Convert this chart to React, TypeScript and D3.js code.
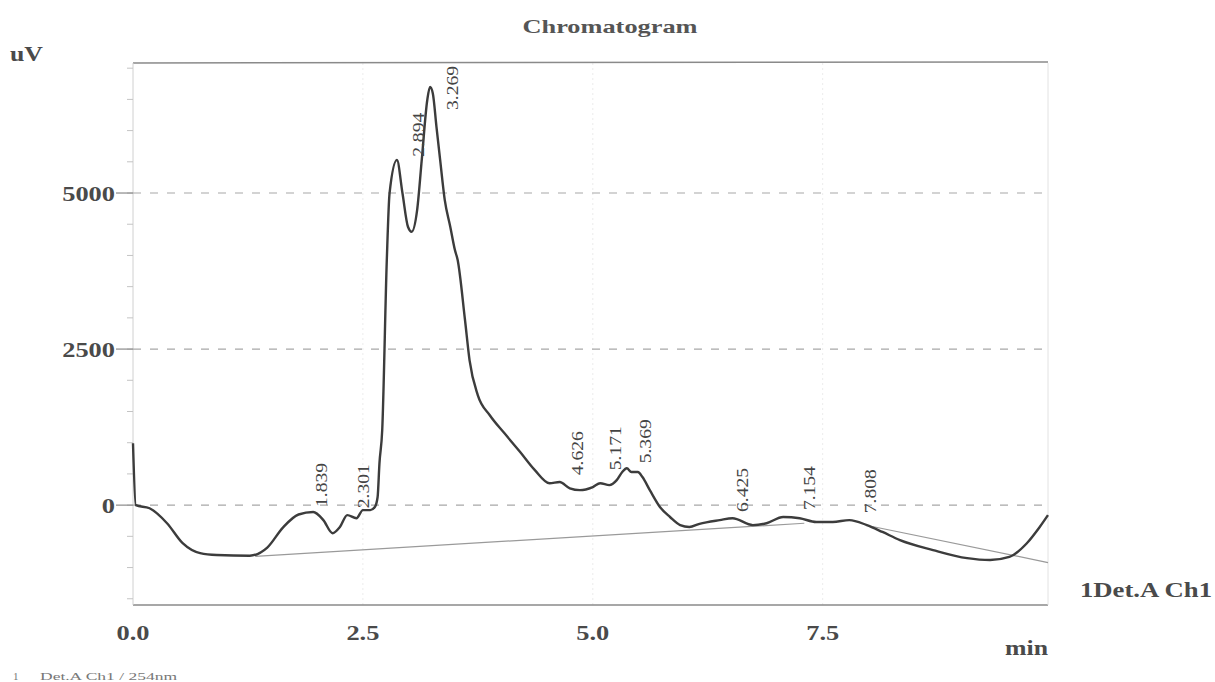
import React from "react";
import * as d3 from "d3";

const title = "Chromatogram";
const yUnit = "uV";
const xUnit = "min";
const channelLabel = "1Det.A Ch1";
const footNo = "1";
const footText = "Det.A Ch1 / 254nm";

const xTicks = [0, 2.5, 5, 7.5];
const yTicks = [0, 2500, 5000];
const yMinorTicks = [-1500, -1000, -500, 0, 500, 1000, 1500, 2000, 2500, 3000, 3500, 4000, 4500, 5000, 5500, 6000, 6500, 7000];

// chromatogram trace: retention time (min), signal (uV)
const traceTime = [
  0.0, 0.03, 0.18, 0.37, 0.54, 0.73, 0.91, 1.27, 1.46, 1.63, 1.8, 1.96, 2.07, 2.17, 2.25, 2.33, 2.43, 2.5, 2.58, 2.63,
  2.66, 2.68, 2.71, 2.76, 2.79, 2.87, 2.93, 2.99, 3.03, 3.09, 3.14, 3.2, 3.23, 3.26, 3.3, 3.34, 3.39, 3.45, 3.5, 3.53,
  3.61, 3.66, 3.75, 3.88, 4.04, 4.21, 4.37, 4.53, 4.64, 4.75, 4.86, 5.0, 5.08, 5.18, 5.26, 5.32, 5.37, 5.42, 5.49, 5.54,
  5.62, 5.73, 5.84, 5.95, 6.05, 6.16, 6.38, 6.52, 6.74, 6.89, 7.07, 7.25, 7.43, 7.61, 7.79, 7.98, 8.15, 8.34, 8.7, 9.07,
  9.32, 9.53, 9.72, 9.86, 9.95,
];
const traceSignal = [
  990, 0, -50, -290, -610, -770, -800, -810, -680, -360, -150, -110, -240, -450, -350, -160, -210, -80, -80, -30,
  130, 670, 1200, 3930, 5000, 5530, 5000, 4460, 4380, 4730, 5530, 6490, 6700, 6600, 6060, 5530, 4890, 4460, 4090, 3930,
  2970, 2320, 1760, 1440, 1150, 850, 560, 350, 370, 270, 240, 290, 350, 320, 400, 530, 590, 530, 530, 450,
  240, -30, -190, -320, -350, -300, -240, -210, -320, -290, -190, -210, -270, -270, -240, -320, -430, -560, -720, -850,
  -880, -830, -610, -350, -160,
];

// integration baseline segments
const baseline1Time = [1.33, 7.3];
const baseline1Signal = [-820, -290];
const baseline2Time = [8.0, 9.95];
const baseline2Signal = [-330, -920];

// peak labels
const peakTimes = [1.839, 2.301, 2.894, 3.269, 4.626, 5.171, 5.369, 6.425, 7.154, 7.808];
const peakLabelHeights = [-30, -50, 5580, 6330, 480, 560, 670, -110, -80, -130];

const W = 1215;
const H = 682;
const L = 133;
const R = 1048;
const T = 63;
const B = 605;

export default function App() {
  const x = d3.scaleLinear().domain([0, 9.95]).range([L, R]);
  const y = d3.scaleLinear().domain([-1600, 7083]).range([B, T]);

  const pts: [number, number][] = traceTime.map((t, i) => [t, traceSignal[i]]);
  const line = d3
    .line<[number, number]>()
    .x((d) => x(d[0]))
    .y((d) => y(d[1]))
    .curve(d3.curveMonotoneX);

  const bl = d3
    .line<[number, number]>()
    .x((d) => x(d[0]))
    .y((d) => y(d[1]));
  const b1: [number, number][] = baseline1Time.map((t, i) => [t, baseline1Signal[i]]);
  const b2: [number, number][] = baseline2Time.map((t, i) => [t, baseline2Signal[i]]);

  // label positions with collision avoidance
  const lx = peakTimes.map((t) => x(t) + 19);
  for (let i = lx.length - 2; i >= 0; i--) {
    if (lx[i] > lx[i + 1] - 30) lx[i] = lx[i + 1] - 30;
  }

  const serif = "'Liberation Serif', 'Times New Roman', serif";
  const txt = "#4a4a4a";

  return (
    <div style={{ position: "fixed", left: 0, top: 0 }}>
      <svg width={W} height={H} style={{ display: "block", background: "#fff" }} fontFamily={serif}>
        {/* title */}
        <text x={610} y={33} textAnchor="middle" fontSize={19} fontWeight="bold" fill="#555" textLength={175} lengthAdjust="spacingAndGlyphs">
          {title}
        </text>
        <text x={10} y={61} fontSize={20} fontWeight="bold" fill={txt} textLength={33} lengthAdjust="spacingAndGlyphs">
          {yUnit}
        </text>

        {/* vertical faint grid */}
        {xTicks.slice(1).map((t) => (
          <line key={"vg" + t} x1={x(t)} x2={x(t)} y1={T} y2={B} stroke="#ececec" strokeWidth={1} strokeDasharray="2,3" />
        ))}

        {/* frame */}
        <line x1={L} x2={R} y1={T} y2={T - 1} stroke="#8a8a8a" strokeWidth={1.5} />
        <line x1={L} x2={R} y1={B} y2={B} stroke="#8a8a8a" strokeWidth={1.5} />
        <line x1={L} x2={L} y1={T} y2={B} stroke="#d0d0d0" strokeWidth={1} />
        <line x1={R} x2={R} y1={T} y2={B} stroke="#e2e2e2" strokeWidth={1} />

        {/* minor y ticks */}
        {yMinorTicks.map((v) => (
          <line key={"mt" + v} x1={L - 6} x2={L} y1={y(v)} y2={y(v)} stroke="#c4c4c4" strokeWidth={1} />
        ))}

        {/* horizontal dashed grid + y labels */}
        {yTicks.map((v) => (
          <g key={"yt" + v}>
            <line x1={L} x2={R} y1={y(v)} y2={y(v)} stroke="#a8a8a8" strokeWidth={1.2} strokeDasharray="8,9" />
            <line x1={L - 17} x2={L} y1={y(v)} y2={y(v)} stroke="#8a8a8a" strokeWidth={1.2} />
            <text
              x={L - 18}
              y={y(v) + 8}
              textAnchor="end"
              fontSize={21}
              fontWeight="bold"
              fill={txt}
              textLength={String(v).length * 13.2}
              lengthAdjust="spacingAndGlyphs"
            >
              {v}
            </text>
          </g>
        ))}

        {/* x labels */}
        {xTicks.map((t) => (
          <text key={"xt" + t} x={x(t)} y={640} textAnchor="middle" fontSize={21} fontWeight="bold" fill={txt} textLength={33} lengthAdjust="spacingAndGlyphs">
            {t.toFixed(1)}
          </text>
        ))}
        <text x={1005} y={655} fontSize={21} fontWeight="bold" fill={txt} textLength={43} lengthAdjust="spacingAndGlyphs">
          {xUnit}
        </text>
        <text x={1080} y={597} fontSize={21} fontWeight="bold" fill={txt} textLength={132} lengthAdjust="spacingAndGlyphs">
          {channelLabel}
        </text>

        {/* baselines */}
        <path d={bl(b1) || ""} fill="none" stroke="#9a9a9a" strokeWidth={1.2} />
        <path d={bl(b2) || ""} fill="none" stroke="#9a9a9a" strokeWidth={1.2} />

        {/* trace */}
        <path d={line(pts) || ""} fill="none" stroke="#3c3c3c" strokeWidth={2.4} strokeLinejoin="round" />

        {/* peak labels */}
        {peakTimes.map((t, i) => (
          <text
            key={"pk" + t}
            transform={`translate(${lx[i]},${y(peakLabelHeights[i])}) rotate(-90)`}
            dy="0.35em"
            fontSize={16}
            fill="#444"
            textLength={44}
            lengthAdjust="spacingAndGlyphs"
          >
            {t.toFixed(3)}
          </text>
        ))}

        {/* footnote */}
        <text x={13} y={680} fontSize={11} fill="#777">
          {footNo}
        </text>
        <text x={40} y={680} fontSize={11} fill="#777" textLength={137} lengthAdjust="spacingAndGlyphs">
          {footText}
        </text>
      </svg>
    </div>
  );
}
